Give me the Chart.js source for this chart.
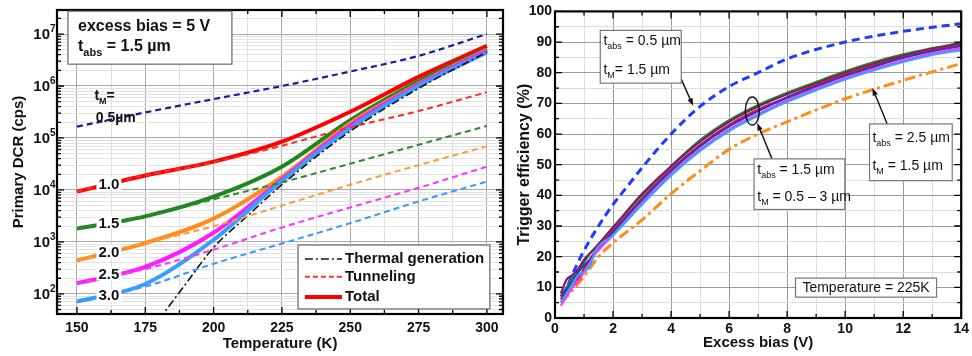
<!DOCTYPE html>
<html>
<head>
<meta charset="utf-8">
<script src="https://cdn.jsdelivr.net/npm/chart.js@4.4.1/dist/chart.umd.min.js"></script>
<style>
  html, body { margin: 0; padding: 0; background: #fff; }
  #wrap { position: relative; width: 972px; height: 356px; overflow: hidden; }
  #left { position: absolute; left: 0; top: 0; width: 506px; height: 356px; }
  #right { position: absolute; left: 492px; top: 0; width: 480px; height: 356px; }
</style>
</head>
<body>
<div id="wrap">
  <div id="left"><canvas id="dcr"></canvas></div>
  <div id="right"><canvas id="eff"></canvas></div>
</div>
<script>
// ---------- left panel: primary DCR vs temperature ----------
const temps = [150, 175, 200, 225, 250, 275, 300];
const tempTicks = [150, 175, 200, 225, 250, 275, 300];
const dcrTickExp = [2, 3, 4, 5, 6, 7];

// tunneling contribution for t_M = 0.5 ... 3.0 um
const tun05 = [165000, 310000, 560000, 1000000, 1900000, 3800000, 10000000];
const tun10 = [9300, 19000, 34000, 71000, 160000, 330000, 760000];
const tun15 = [1800, 3100, 6600, 14000, 32000, 74000, 170000];
const tun20 = [440, 950, 2000, 5000, 12600, 30000, 69000];
const tun25 = [160, 300, 710, 1900, 4600, 11000, 28000];
const tun30 = [71, 138, 380, 930, 2300, 6000, 14500];

// total DCR
const tot10 = [9300, 19000, 35000, 85000, 320000, 1500000, 5900000];
const tot15 = [1800, 3100, 7400, 28000, 220000, 1230000, 5200000];
const tot20 = [440, 950, 2800, 18000, 190000, 1100000, 5000000];
const tot25 = [160, 330, 1500, 16000, 175000, 1070000, 4800000];
const tot30 = [71, 155, 1100, 15000, 155000, 1000000, 4400000];

// thermal generation (same for all t_M)
const thermalT = [180, 190, 200, 212.5, 225, 250, 275, 300];
const thermalDcr = [32, 160, 780, 3200, 12600, 135000, 900000, 4500000];

const tmLabels = ['1.0', '1.5', '2.0', '2.5', '3.0'];

// ---------- right panel: trigger efficiency vs excess bias ----------
const biasV = [0.2, 0.4, 0.6, 0.8, 1.0, 1.2, 1.4, 2, 3, 4, 5, 6, 7, 8, 9, 10, 11, 12, 13, 14];
const effGreen  = [7, 10, 13, 15, 18, 21, 23, 29.5, 40, 49.5, 58, 64.5, 69.5, 73.5, 77, 80.5, 83.5, 86, 88, 89.8];
const effPurple = [8, 12.5, 14, 16, 19, 21, 23, 29.5, 40.5, 49.5, 57.5, 64, 69, 73, 76.5, 80, 83, 85.5, 87.8, 89.5];
const effRed    = [6, 9, 11, 13, 16, 19, 22, 28.5, 39, 48.5, 56.5, 63, 68, 72, 76, 79.5, 82.5, 85, 87.3, 89];
const effNavy   = [7, 9.5, 12, 15, 17, 19, 21.5, 28, 38.5, 48, 56, 62.5, 67.5, 71.8, 75.5, 79, 82, 84.8, 87, 88.7];
const effPink   = [4, 7, 10, 12, 15, 18, 21, 27, 37.5, 47, 55, 61.5, 66.5, 71, 74.8, 78.3, 81.3, 84, 86.3, 88];
const effCyan   = [5, 8, 11, 14, 15, 17, 22, 27, 37, 46.5, 54.5, 61, 66, 70.5, 74.3, 77.8, 80.8, 83.5, 85.8, 87.3];

const thinV   = [0.3, 0.5, 1, 1.5, 2, 2.5, 3, 4, 5, 6, 7, 8, 10, 12, 14];
const effThin = [7, 12, 22, 30, 37, 43, 49, 60, 69, 75.5, 80, 84.5, 90, 93.5, 96];
const thickV   = [0.2, 0.5, 1, 1.5, 2, 3, 4, 5, 6, 7, 8, 10, 12, 14];
const effThick = [5, 8, 13.5, 20, 24.5, 32, 40.5, 48, 55, 60, 64, 71.5, 77.5, 83];

const FONT = "'Liberation Sans', Arial, Helvetica, sans-serif";
Chart.defaults.font.family = FONT;
Chart.defaults.color = '#111';

const pts = (xs, ys) => xs.map((x, i) => ({ x: x, y: ys[i] }));
const isDecade = v => Math.abs(Math.log10(v) - Math.round(Math.log10(v))) < 1e-9;

function line(label, xs, ys, color, width, dash) {
  return {
    label: label,
    data: pts(xs, ys),
    borderColor: color,
    borderWidth: width,
    borderDash: dash || [],
    pointRadius: 0,
    fill: false,
    cubicInterpolationMode: 'monotone'
  };
}

// text with subscripts: parts = [[text, 'n' | 'sub'], ...]
function richText(ctx, parts, x, y, size, weight, align) {
  const fontFor = k => weight + ' ' + (k === 'sub' ? Math.round(size * 0.66) : size) + 'px ' + FONT;
  let w = 0;
  parts.forEach(p => { ctx.font = fontFor(p[1]); w += ctx.measureText(p[0]).width; });
  let cx = align === 'center' ? x - w / 2 : x;
  ctx.textAlign = 'left';
  ctx.textBaseline = 'middle';
  parts.forEach(p => {
    ctx.font = fontFor(p[1]);
    ctx.fillText(p[0], cx, p[1] === 'sub' ? y + size * 0.38 : y);
    cx += ctx.measureText(p[0]).width;
  });
  return w;
}

function box(ctx, x1, y1, x2, y2, color) {
  ctx.fillStyle = '#fff';
  ctx.fillRect(x1, y1, x2 - x1, y2 - y1);
  ctx.strokeStyle = color || '#777';
  ctx.lineWidth = 1.2;
  ctx.strokeRect(x1, y1, x2 - x1, y2 - y1);
}

function arrow(ctx, x1, y1, x2, y2) {
  const a = Math.atan2(y2 - y1, x2 - x1);
  ctx.strokeStyle = '#111';
  ctx.fillStyle = '#111';
  ctx.lineWidth = 1.4;
  ctx.beginPath();
  ctx.moveTo(x1, y1);
  ctx.lineTo(x2 - 6 * Math.cos(a), y2 - 6 * Math.sin(a));
  ctx.stroke();
  ctx.beginPath();
  ctx.moveTo(x2, y2);
  ctx.lineTo(x2 - 8 * Math.cos(a - 0.35), y2 - 8 * Math.sin(a - 0.35));
  ctx.lineTo(x2 - 8 * Math.cos(a + 0.35), y2 - 8 * Math.sin(a + 0.35));
  ctx.closePath();
  ctx.fill();
}

// frame + inward tick marks
function makeFrame(isMajorX, isMajorY) {
  return {
    id: 'frame',
    afterDatasetsDraw(chart) {
      const { ctx, chartArea: a, scales: { x, y } } = chart;
      ctx.save();
      ctx.strokeStyle = '#000';
      ctx.lineWidth = 1.3;
      ctx.beginPath();
      x.ticks.forEach(t => {
        const p = x.getPixelForValue(t.value);
        const len = isMajorX(t.value) ? 7 : 4;
        ctx.moveTo(p, a.bottom); ctx.lineTo(p, a.bottom - len);
        ctx.moveTo(p, a.top); ctx.lineTo(p, a.top + len);
      });
      y.ticks.forEach(t => {
        const p = y.getPixelForValue(t.value);
        const len = isMajorY(t.value) ? 7 : 4;
        ctx.moveTo(a.left, p); ctx.lineTo(a.left + len, p);
        ctx.moveTo(a.right, p); ctx.lineTo(a.right - len, p);
      });
      ctx.stroke();
      ctx.lineWidth = 2.2;
      ctx.strokeRect(a.left, a.top, a.width, a.height);
      ctx.restore();
    }
  };
}

// ---------- left chart ----------
const dcrMin = 41, dcrMax = 2.9e7;
const dcrTicks = [];
for (let e = 1; e <= 7; e++) {
  for (let m = 1; m <= 9; m++) {
    const v = m * Math.pow(10, e);
    if (v >= dcrMin && v <= dcrMax) dcrTicks.push(v);
  }
}
const tempMinor = [];
for (let t = 150; t <= 300; t += 12.5) tempMinor.push(t);

const dcrNotes = {
  id: 'dcrNotes',
  afterDraw(chart) {
    const { ctx, chartArea: a, scales: { x, y } } = chart;
    const X = t => x.getPixelForValue(t);
    const Y = lg => y.getPixelForValue(Math.pow(10, lg));
    ctx.save();
    ctx.fillStyle = '#111';
    // y tick labels 10^n
    dcrTickExp.forEach(e => {
      const p = Y(e);
      ctx.font = 'bold 15px ' + FONT;
      ctx.textAlign = 'right';
      ctx.textBaseline = 'middle';
      ctx.fillText('10', a.left - 7, p + 1);
      ctx.font = 'bold 10px ' + FONT;
      ctx.textAlign = 'left';
      ctx.fillText(String(e), a.left - 7, p - 5);
    });

    // info box
    box(ctx, X(146.7), Y(7.44), X(206.7), Y(6.42), '#666');
    ctx.fillStyle = '#111';
    richText(ctx, [['excess bias = 5 V', 'n']], X(150.4), Y(7.15), 16, 'bold');
    richText(ctx, [['t', 'n'], ['abs', 'sub'], [' = 1.5 \u00b5m', 'n']], X(150.4), Y(6.75), 16, 'bold');

    // t_M labels
    richText(ctx, [['t', 'n'], ['M', 'sub'], ['=', 'n']], X(156.4), Y(5.8), 14, 'bold');
    richText(ctx, [['0.5\u00b5m', 'n']], X(156.9), Y(5.38), 14, 'bold');
    const labLg = [4.12, 3.37, 2.81, 2.39, 1.98];
    tmLabels.forEach((s, i) => {
      ctx.font = 'bold 15px ' + FONT;
      const w = ctx.measureText(s).width;
      const cx = X(161.7), cy = Y(labLg[i]);
      ctx.fillStyle = '#fff';
      ctx.fillRect(cx - w / 2 - 2, cy - 7, w + 4, 14);
      ctx.fillStyle = '#111';
      ctx.textAlign = 'center';
      ctx.textBaseline = 'middle';
      ctx.fillText(s, cx, cy + 1);
    });

    // legend
    box(ctx, X(230.9), Y(2.94), X(301.1), Y(1.71), '#666');
    const items = [
      ['Thermal generation', '#111', 1.6, [8, 3, 2, 3], 2.67],
      ['Tunneling', '#ff2a2a', 2, [5, 3], 2.33],
      ['Total', '#ff0000', 4, [], 1.94]
    ];
    items.forEach(it => {
      const py = Y(it[4]);
      ctx.strokeStyle = it[1];
      ctx.lineWidth = it[2];
      ctx.setLineDash(it[3]);
      ctx.beginPath();
      ctx.moveTo(X(233.4), py);
      ctx.lineTo(X(247.0), py);
      ctx.stroke();
      ctx.setLineDash([]);
      ctx.fillStyle = '#111';
      richText(ctx, [[it[0], 'n']], X(248.1), py, 15, 'bold');
    });
    ctx.restore();
  }
};

new Chart(document.getElementById('dcr'), {
  type: 'line',
  data: {
    datasets: [
      line('tun 0.5', temps, tun05, '#1a1a9c', 2.2, [6, 4]),
      line('tun 1.0', temps, tun10, '#ff2a2a', 2, [6, 4]),
      line('tun 1.5', temps, tun15, '#2a8a2a', 2, [6, 4]),
      line('tun 2.0', temps, tun20, '#ff9933', 2, [6, 4]),
      line('tun 2.5', temps, tun25, '#ff33ff', 2, [6, 4]),
      line('tun 3.0', temps, tun30, '#3399ff', 2, [6, 4]),
      line('thermal', thermalT, thermalDcr, '#111', 1.6, [8, 3, 2, 3]),
      line('tot 3.0', temps, tot30, '#3a9cff', 4),
      line('tot 2.5', temps, tot25, '#ff1aff', 4),
      line('tot 2.0', temps, tot20, '#ff8c1a', 4),
      line('tot 1.5', temps, tot15, '#1f861f', 4),
      line('tot 1.0', temps, tot10, '#ff0000', 4)
    ]
  },
  options: {
    responsive: true,
    maintainAspectRatio: false,
    animation: false,
    layout: { padding: { left: 0, right: 3, top: 10, bottom: 0 } },
    plugins: { legend: { display: false }, tooltip: { enabled: false } },
    scales: {
      x: {
        type: 'linear',
        min: 142.7,
        max: 305.9,
        afterBuildTicks: s => { s.ticks = tempMinor.map(v => ({ value: v })); },
        afterFit: s => { s.height = 42; },
        border: { display: false },
        grid: {
          drawTicks: false,
          color: c => (c.tick && tempTicks.includes(c.tick.value)) ? '#aaaaaa' : '#dddddd',
          lineWidth: 1
        },
        ticks: {
          padding: 6,
          autoSkip: false,
          maxRotation: 0,
          font: { size: 14, weight: 'bold' },
          callback: v => tempTicks.includes(v) ? String(v) : ''
        },
        title: {
          display: true,
          text: 'Temperature (K)',
          font: { size: 15, weight: 'bold' },
          padding: { top: 0, bottom: 3 }
        }
      },
      y: {
        type: 'logarithmic',
        min: dcrMin,
        max: dcrMax,
        afterBuildTicks: s => { s.ticks = dcrTicks.map(v => ({ value: v })); },
        afterFit: s => { s.width = 57; },
        border: { display: false },
        grid: {
          drawTicks: false,
          color: c => (c.tick && isDecade(c.tick.value)) ? '#aaaaaa' : '#e2e2e2',
          lineWidth: 1
        },
        ticks: { display: false },
        title: {
          display: true,
          text: 'Primary DCR (cps)',
          font: { size: 15, weight: 'bold' },
          padding: { top: 10, bottom: 0 }
        }
      }
    }
  },
  plugins: [makeFrame(v => tempTicks.includes(v), isDecade), dcrNotes]
});

// ---------- right chart ----------
const biasTicks = [];
for (let v = 0; v <= 14; v++) biasTicks.push(v);
const effTicks = [];
for (let v = 0; v <= 100; v += 5) effTicks.push(v);

const effNotes = {
  id: 'effNotes',
  afterDraw(chart) {
    const { ctx, scales: { x, y } } = chart;
    const X = v => x.getPixelForValue(v);
    const Y = e => y.getPixelForValue(e);
    ctx.save();
    // t_abs = 0.5 um box
    arrow(ctx, X(4.35), Y(77.9), X(4.76), Y(69.2));
    box(ctx, X(1.56), Y(93.8), X(4.35), Y(76.6));
    ctx.fillStyle = '#111';
    richText(ctx, [['t', 'n'], ['abs', 'sub'], [' = 0.5 \u00b5m', 'n']], X(1.67), Y(90.3), 14, 'normal');
    richText(ctx, [['t', 'n'], ['M', 'sub'], ['= 1.5 \u00b5m', 'n']], X(1.67), Y(80.8), 14, 'normal');

    // t_abs = 1.5 um box + ellipse
    ctx.strokeStyle = '#111';
    ctx.lineWidth = 1.4;
    ctx.beginPath();
    ctx.ellipse(X(6.8), Y(67.5), 7, 14, 0, 0, Math.PI * 2);
    ctx.stroke();
    arrow(ctx, X(7.48), Y(51.9), X(6.97), Y(63.6));
    box(ctx, X(6.86), Y(51.9), X(9.99), Y(35.4));
    ctx.fillStyle = '#111';
    richText(ctx, [['t', 'n'], ['abs', 'sub'], [' = 1.5 \u00b5m', 'n']], X(6.97), Y(48.1), 14, 'normal');
    richText(ctx, [['t', 'n'], ['M', 'sub'], [' = 0.5 \u2013 3 \u00b5m', 'n']], X(6.97), Y(39.3), 14, 'normal');

    // t_abs = 2.5 um box
    arrow(ctx, X(11.45), Y(63.3), X(10.94), Y(75));
    box(ctx, X(10.84), Y(63.3), X(13.69), Y(44.8));
    ctx.fillStyle = '#111';
    richText(ctx, [['t', 'n'], ['abs', 'sub'], [' = 2.5 \u00b5m', 'n']], X(10.94), Y(58.8), 14, 'normal');
    richText(ctx, [['t', 'n'], ['M', 'sub'], [' = 1.5 \u00b5m', 'n']], X(10.94), Y(49.4), 14, 'normal');

    // temperature box
    box(ctx, X(8.29), Y(13), X(13.15), Y(6.8));
    ctx.fillStyle = '#111';
    richText(ctx, [['Temperature = 225K', 'n']], X(10.72), Y(9.8), 14, 'normal', 'center');
    ctx.restore();
  }
};

new Chart(document.getElementById('eff'), {
  type: 'line',
  data: {
    datasets: [
      line('tM 3.0', biasV, effCyan, '#3aa0ff', 2.2),
      line('tM 2.5', biasV, effPink, '#ff33ff', 2.2),
      line('tM 2.0', biasV, effNavy, '#2040c0', 2.2),
      line('tM 1.5', biasV, effRed, '#e8141c', 2.2),
      line('tM 1.0', biasV, effPurple, '#7a1a7a', 2.2),
      line('tM 0.5', biasV, effGreen, '#1f8a1f', 2.2),
      line('tabs 0.5', thinV, effThin, '#1f3cff', 3, [8, 5]),
      line('tabs 2.5', thickV, effThick, '#ff8c1a', 3, [11, 4, 3, 4])
    ]
  },
  options: {
    responsive: true,
    maintainAspectRatio: false,
    animation: false,
    layout: { padding: { left: 0, right: 5, top: 10, bottom: 0 } },
    plugins: { legend: { display: false }, tooltip: { enabled: false } },
    scales: {
      x: {
        type: 'linear',
        min: 0,
        max: 14,
        afterBuildTicks: s => { s.ticks = biasTicks.map(v => ({ value: v })); },
        afterFit: s => { s.height = 38; },
        border: { display: false },
        grid: {
          drawTicks: false,
          color: c => (c.tick && c.tick.value % 2 === 0) ? '#9a9a9a' : '#dddddd',
          lineWidth: 1
        },
        ticks: {
          padding: 3,
          autoSkip: false,
          maxRotation: 0,
          font: { size: 14, weight: 'bold' },
          callback: v => v % 2 === 0 ? String(v) : ''
        },
        title: {
          display: true,
          text: 'Excess bias (V)',
          font: { size: 15, weight: 'bold' },
          padding: { top: 0, bottom: 4 }
        }
      },
      y: {
        type: 'linear',
        min: 0,
        max: 100,
        afterBuildTicks: s => { s.ticks = effTicks.map(v => ({ value: v })); },
        afterFit: s => { s.width = 63; },
        border: { display: false },
        grid: {
          drawTicks: false,
          color: c => (c.tick && c.tick.value % 10 === 0) ? '#9a9a9a' : '#dddddd',
          lineWidth: 1
        },
        ticks: {
          padding: 3,
          autoSkip: false,
          font: { size: 14, weight: 'bold' },
          callback: v => v % 10 === 0 ? String(v) : ''
        },
        title: {
          display: true,
          text: 'Trigger efficiency (%)',
          font: { size: 16, weight: 'bold' },
          padding: { top: 23, bottom: 0 }
        }
      }
    }
  },
  plugins: [makeFrame(v => v % 2 === 0, v => v % 10 === 0), effNotes]
});
</script>
</body>
</html>
